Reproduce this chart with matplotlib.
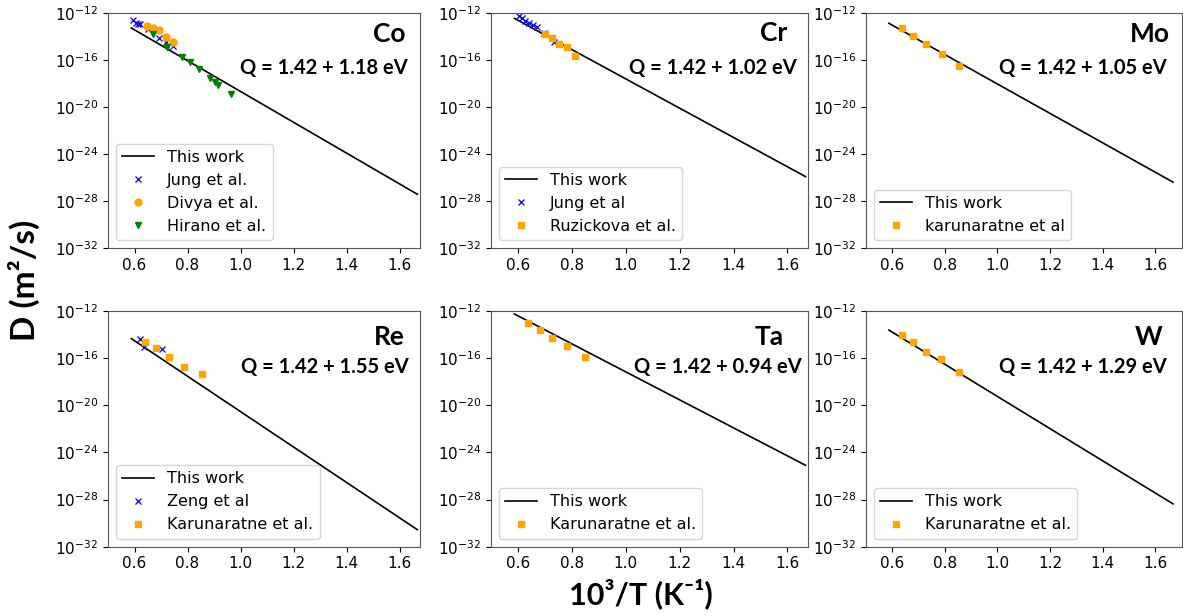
import numpy as np
import matplotlib.pyplot as plt
from matplotlib.ticker import NullLocator

# x = 10^3/T (1/K), y = log10 D (m^2/s)
line_x = [0.588, 1.667]

co_line = [-13.25, -27.4]
co_jung_x = [0.594, 0.604, 0.613, 0.621, 0.650, 0.692, 0.719, 0.744]
co_jung_y = [-12.57, -12.80, -12.91, -12.91, -13.36, -14.08, -14.42, -14.78]
co_divya_x = [0.648, 0.669, 0.692, 0.717, 0.744]
co_divya_y = [-13.06, -13.28, -13.42, -13.99, -14.47]
co_hirano_x = [0.671, 0.724, 0.780, 0.808, 0.843, 0.883, 0.903, 0.916, 0.965]
co_hirano_y = [-13.76, -14.84, -15.69, -16.12, -16.77, -17.48, -17.82, -18.10, -18.89]

cr_line = [-12.43, -25.9]
cr_jung_x = [0.604, 0.616, 0.628, 0.641, 0.657, 0.672, 0.696, 0.733]
cr_jung_y = [-12.23, -12.43, -12.63, -12.80, -13.00, -13.19, -13.65, -14.42]
cr_ruz_x = [0.702, 0.727, 0.755, 0.782, 0.813]
cr_ruz_y = [-13.76, -14.13, -14.64, -14.89, -15.61]

mo_line = [-12.85, -26.37]
mo_kar_x = [0.639, 0.681, 0.730, 0.788, 0.856]
mo_kar_y = [-13.28, -13.91, -14.61, -15.46, -16.49]

re_line = [-14.37, -30.56]
re_zeng_x = [0.619, 0.636, 0.705]
re_zeng_y = [-14.37, -15.08, -15.26]
re_kar_x = [0.638, 0.680, 0.729, 0.787, 0.854]
re_kar_y = [-14.65, -15.12, -15.91, -16.81, -17.36]

ta_line = [-12.28, -25.1]
ta_kar_x = [0.637, 0.681, 0.728, 0.784, 0.851]
ta_kar_y = [-13.00, -13.61, -14.30, -14.99, -15.92]

w_line = [-13.64, -28.37]
w_kar_x = [0.639, 0.681, 0.730, 0.787, 0.856]
w_kar_y = [-14.06, -14.63, -15.47, -16.11, -17.21]

elements = ["Co", "Cr", "Mo", "Re", "Ta", "W"]
q_labels = ["Q = 1.42 + 1.18 eV", "Q = 1.42 + 1.02 eV", "Q = 1.42 + 1.05 eV",
            "Q = 1.42 + 1.55 eV", "Q = 1.42 + 0.94 eV", "Q = 1.42 + 1.29 eV"]
y_ticks = [1e-32, 1e-28, 1e-24, 1e-20, 1e-16, 1e-12]

BOLD = ["Lato", "DejaVu Sans"]

# styles for the experimental sets
jung = dict(ls="none", marker="x", color="blue", ms=4, mew=0.9)
divya = dict(ls="none", marker="o", color="orange", ms=5)
hirano = dict(ls="none", marker="v", color="green", ms=4.5)
square = dict(ls="none", marker="s", color="orange", ms=4.5)

series = [
    [(co_jung_x, co_jung_y, "Jung et al.", jung),
     (co_divya_x, co_divya_y, "Divya et al.", divya),
     (co_hirano_x, co_hirano_y, "Hirano et al.", hirano)],
    [(cr_jung_x, cr_jung_y, "Jung et al", jung),
     (cr_ruz_x, cr_ruz_y, "Ruzickova et al.", square)],
    [(mo_kar_x, mo_kar_y, "karunaratne et al", square)],
    [(re_zeng_x, re_zeng_y, "Zeng et al", jung),
     (re_kar_x, re_kar_y, "Karunaratne et al.", square)],
    [(ta_kar_x, ta_kar_y, "Karunaratne et al.", square)],
    [(w_kar_x, w_kar_y, "Karunaratne et al.", square)],
]
lines = [co_line, cr_line, mo_line, re_line, ta_line, w_line]

W, H = 1183, 616
fig = plt.figure(figsize=(W / 100, H / 100), dpi=100)

# pixel layout: (left, width, xmax) per column, (top, height) per row
cols = [(108, 312, 1.677), (490.7, 317, 1.675), (865.7, 316, 1.7)]
rows = [(13.3, 235), (310.7, 236)]
# text anchors in axes fraction: (name_x, name_y, q_x, q_y)
text_pos = [(0.952, 0.912, 0.962, 0.767), (0.934, 0.916, 0.966, 0.767),
            (0.963, 0.913, 0.953, 0.766), (0.952, 0.89, 0.965, 0.761),
            (0.923, 0.89, 0.982, 0.761), (0.938, 0.89, 0.953, 0.761)]

for i, name in enumerate(elements):
    left, width, xmax = cols[i % 3]
    top, height = rows[i // 3]
    ax = fig.add_axes([left / W, 1 - (top + height) / H, width / W, height / H])

    ax.plot(line_x, 10.0 ** np.array(lines[i]), "k-", lw=1.2, label="This work")
    for xs, ys, lab, st in series[i]:
        ax.plot(xs, 10.0 ** np.array(ys), label=lab, **st)

    ax.set_yscale("log")
    ax.set_ylim(1e-32, 1e-12)
    ax.set_yticks(y_ticks)
    ax.yaxis.set_minor_locator(NullLocator())
    ax.set_xlim(0.5, xmax)
    ax.set_xticks([0.6, 0.8, 1.0, 1.2, 1.4, 1.6])
    ax.tick_params(labelsize=11)
    for s in ax.spines.values():
        s.set_color("#555555")

    nx, ny, qx, qy = text_pos[i]
    ax.text(nx, ny, name, transform=ax.transAxes, ha="right", va="center",
            fontsize=19, fontweight="bold", family=BOLD)
    ax.text(qx, qy, q_labels[i], transform=ax.transAxes, ha="right", va="center",
            fontsize=14.5, fontweight="bold", family=BOLD)

    ax.legend(loc="lower left", fontsize=11.5)

fig.text(24 / W, 1 - 280 / H, "D (m²/s)", rotation=90, ha="center", va="center",
         fontsize=24, fontweight="bold", family=BOLD)
fig.text(641 / W, 1 - 594 / H, "10³/T (K⁻¹)", ha="center", va="center",
         fontsize=22, fontweight="bold", family=BOLD)

plt.savefig("out.png", dpi=100)
